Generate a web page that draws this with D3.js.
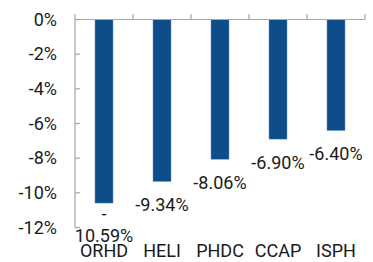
<!DOCTYPE html>
<html>
<head>
<meta charset="utf-8">
<script src="https://cdn.jsdelivr.net/npm/d3@7"></script>
<style>
  body { margin: 0; background: #fff; }
  svg { display: block; font-family: Roboto, sans-serif; }
  .axis-line { stroke: #a6a6a6; stroke-width: 1.2; fill: none; }
  text { fill: #1a1a1a; font-size: 18px; }
</style>
</head>
<body>
<svg id="chart" width="373" height="262"></svg>
<script>
const categories = ['ORHD', 'HELI', 'PHDC', 'CCAP', 'ISPH'];
const values = [-10.59, -9.34, -8.06, -6.90, -6.40];
const yTicks = [0, -2, -4, -6, -8, -10, -12];

const [plotLeft, plotRight, plotTop, plotBottom] = [75, 365, 19.5, 227.5];

const svg = d3.select('#chart');

const x = d3.scaleBand()
  .domain(categories)
  .range([plotLeft, plotRight])
  .paddingInner(0.69)
  .paddingOuter(0.345);

const y = d3.scaleLinear()
  .domain([0, -12])
  .range([plotTop, plotBottom]);

const step = x.step();

// y axis
svg.append('line')
  .attr('class', 'axis-line')
  .attr('x1', plotLeft).attr('x2', plotLeft)
  .attr('y1', y(0)).attr('y2', y(-12));

svg.append('g')
  .selectAll('line')
  .data(yTicks)
  .join('line')
    .attr('class', 'axis-line')
    .attr('x1', plotLeft).attr('x2', plotLeft + 5)
    .attr('y1', d => y(d)).attr('y2', d => y(d));

svg.append('g')
  .selectAll('text')
  .data(yTicks)
  .join('text')
    .attr('x', plotLeft - 18)
    .attr('y', d => y(d))
    .attr('dy', '0.35em')
    .attr('text-anchor', 'end')
    .text(d => `${d}%`);

// bars
svg.append('g')
  .selectAll('rect')
  .data(values)
  .join('rect')
    .attr('x', (d, i) => x(categories[i]))
    .attr('y', y(0))
    .attr('width', x.bandwidth())
    .attr('height', d => y(d) - y(0))
    .attr('fill', '#0f4c8a')
    .attr('stroke', '#5f8fc4')
    .attr('stroke-width', 0.5);

// x axis at zero
svg.append('line')
  .attr('class', 'axis-line')
  .attr('x1', plotLeft).attr('x2', plotRight)
  .attr('y1', y(0)).attr('y2', y(0));

svg.append('g')
  .selectAll('line')
  .data(d3.range(categories.length + 1))
  .join('line')
    .attr('class', 'axis-line')
    .attr('x1', i => plotLeft + i * step).attr('x2', i => plotLeft + i * step)
    .attr('y1', y(0)).attr('y2', y(0) - 5.5);

// value labels
const labels = svg.append('g')
  .selectAll('text')
  .data(values)
  .join('text')
    .attr('text-anchor', 'middle')
    .attr('x', (d, i) => x(categories[i]) + x.bandwidth() / 2)
    .attr('y', d => y(d) + (y(d) > 200 ? 17 : 30));

labels.each(function(d, i) {
  const t = d3.select(this);
  const s = `${d.toFixed(2)}%`;
  if (y(d) > 200) {
    // label wraps under the tallest bar
    const cx = x(categories[i]) + x.bandwidth() / 2;
    t.append('tspan').attr('x', cx).text('-');
    t.append('tspan').attr('x', cx).attr('dy', 22).text(s.slice(1));
  } else {
    t.text(s);
  }
});

// category labels
svg.append('g')
  .selectAll('text')
  .data(categories)
  .join('text')
    .attr('text-anchor', 'middle')
    .attr('x', d => x(d) + x.bandwidth() / 2)
    .attr('y', 257)
    .text(d => d);
</script>
</body>
</html>
